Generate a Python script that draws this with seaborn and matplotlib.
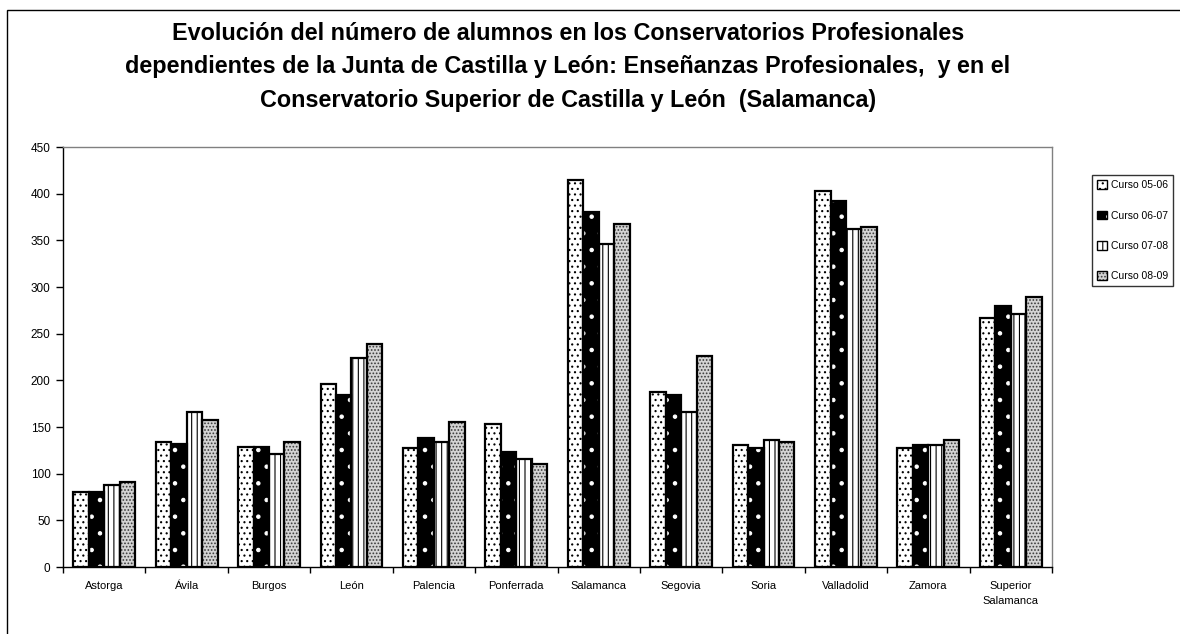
import matplotlib
matplotlib.use('Agg')
import matplotlib.pyplot as plt
import seaborn as sns
import pandas as pd
import numpy as np
from matplotlib.patches import Rectangle, Patch
from matplotlib.legend_handler import HandlerTuple

# ---------------- data ----------------
categories = ['Astorga', 'Ávila', 'Burgos', 'León', 'Palencia', 'Ponferrada',
              'Salamanca', 'Segovia', 'Soria', 'Valladolid', 'Zamora',
              'Superior\nSalamanca']
series_names = ['Curso 05-06', 'Curso 06-07', 'Curso 07-08', 'Curso 08-09']
curso_05_06 = [80, 134, 129, 196, 127, 153, 415, 187, 131, 403, 127, 267]
curso_06_07 = [80, 132, 129, 184, 138, 123, 380, 184, 127, 392, 131, 280]
curso_07_08 = [88, 166, 121, 224, 134, 116, 346, 166, 136, 362, 131, 271]
curso_08_09 = [91, 157, 134, 239, 155, 110, 368, 226, 134, 364, 136, 289]
y_ticks = [0, 50, 100, 150, 200, 250, 300, 350, 400, 450]
title_lines = [
    'Evolución del número de alumnos en los Conservatorios Profesionales',
    'dependientes de la Junta de Castilla y León: Enseñanzas Profesionales,  y en el',
    'Conservatorio Superior de Castilla y León  (Salamanca)',
]

# ---------------- styles ----------------
faces = ['white', 'black', 'white', '#d4d4d4']
hatches = ['...', '.', '|||', '.....']
hatch_colors = ['black', 'white', 'black', '#3a3a3a']

sns.set_style('white')
plt.rcParams['font.family'] = ['Liberation Sans', 'DejaVu Sans']
plt.rcParams['hatch.linewidth'] = 0.8
plt.rcParams['text.color'] = 'black'
plt.rcParams['xtick.color'] = 'black'
plt.rcParams['ytick.color'] = 'black'

rows = []
for name, vals in zip(series_names, [curso_05_06, curso_06_07, curso_07_08, curso_08_09]):
    for c, v in zip(categories, vals):
        rows.append({'cat': c, 'curso': name, 'val': v})
df = pd.DataFrame(rows)

fig = plt.figure(figsize=(11.8, 6.34), dpi=100)
ax = fig.add_axes([63 / 1180, 67 / 634, (1052 - 63) / 1180, (567 - 147) / 634])

sns.barplot(data=df, x='cat', y='val', hue='curso', order=categories,
            hue_order=series_names, palette=['white'] * 4, width=0.75,
            ax=ax, legend=False, saturation=1, linewidth=0)

for i, cont in enumerate(ax.containers):
    for p in cont.patches:
        p.set_facecolor(faces[i])
        p.set_edgecolor(hatch_colors[i])
        p.set_hatch(hatches[i])
        p.set_linewidth(0)
        ax.add_patch(Rectangle(p.get_xy(), p.get_width(), p.get_height(),
                               fill=False, edgecolor='black', linewidth=1.6,
                               zorder=p.get_zorder() + 0.1))

ax.set_xlim(-0.5, len(categories) - 0.5)
ax.set_ylim(0, 450)
ax.set_yticks(y_ticks)
ax.set_xlabel('')
ax.set_ylabel('')

ax.tick_params(axis='y', direction='out', length=5, width=1, labelsize=8.5,
               pad=4, left=True, color='black', labelcolor='black')
ax.tick_params(axis='x', which='major', length=0, labelsize=8, pad=10,
               labelcolor='black')
ax.set_xticks(np.arange(-0.5, len(categories), 1), minor=True)
ax.tick_params(axis='x', which='minor', direction='out', length=4, width=1,
               bottom=True, color='black')
for lab in ax.get_xticklabels():
    lab.set_linespacing(1.6)

for s in ['left', 'bottom']:
    ax.spines[s].set_color('black')
    ax.spines[s].set_linewidth(1)
for s in ['top', 'right']:
    ax.spines[s].set_color('#808080')
    ax.spines[s].set_linewidth(1)

# legend
handles = []
for i in range(4):
    handles.append((Patch(facecolor=faces[i], edgecolor=hatch_colors[i], hatch=hatches[i], linewidth=0),
                    Patch(facecolor='none', edgecolor='black', linewidth=1)))
leg = fig.legend(handles, series_names, loc='upper left',
                 bbox_to_anchor=(1092 / 1180, 1 - 175 / 634),
                 handler_map={tuple: HandlerTuple(ndivide=1)},
                 fontsize=7.5, frameon=True, fancybox=False, edgecolor='black',
                 handlelength=0.9, handleheight=0.9, handletextpad=0.4,
                 labelspacing=1.95, borderpad=0.5, borderaxespad=0)
leg.get_frame().set_linewidth(1)
for t in leg.get_texts():
    t.set_color('black')

# title
for line, ypix in zip(title_lines, [33, 67, 100]):
    fig.text(568 / 1180, 1 - ypix / 634, line, ha='center', va='center',
             fontsize=16.8, fontweight='bold', color='black')

# outer frame
fig.patches.append(Rectangle((7 / 1180, -0.1), 1.2, (634 - 10) / 634 + 0.1,
                             transform=fig.transFigure, fill=False,
                             edgecolor='black', linewidth=1))

fig.savefig('out.png', dpi=100)
